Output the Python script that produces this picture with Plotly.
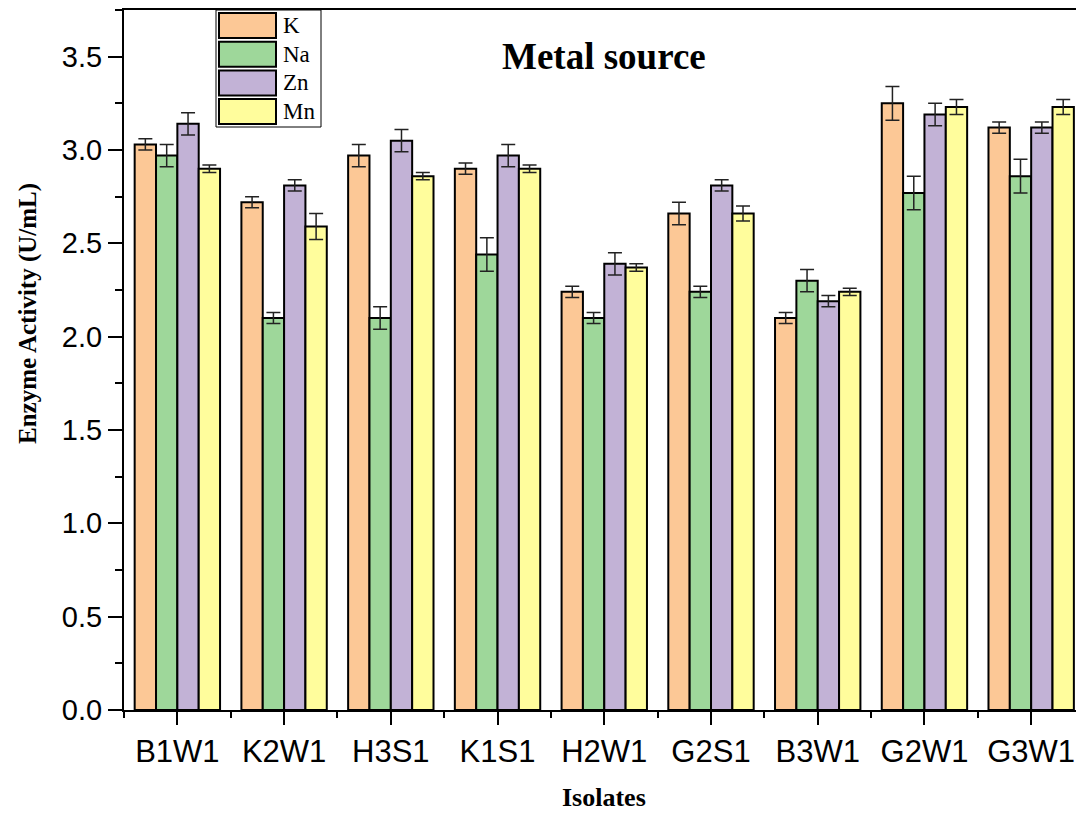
import plotly.graph_objects as go

isolates = ["B1W1", "K2W1", "H3S1", "K1S1", "H2W1", "G2S1", "B3W1", "G2W1", "G3W1"]
metals = ["K", "Na", "Zn", "Mn"]

k_vals = [3.03, 2.72, 2.97, 2.90, 2.24, 2.66, 2.10, 3.25, 3.12]
na_vals = [2.97, 2.10, 2.10, 2.44, 2.10, 2.24, 2.30, 2.77, 2.86]
zn_vals = [3.14, 2.81, 3.05, 2.97, 2.39, 2.81, 2.19, 3.19, 3.12]
mn_vals = [2.90, 2.59, 2.86, 2.90, 2.37, 2.66, 2.24, 3.23, 3.23]

k_err = [0.03, 0.03, 0.06, 0.03, 0.03, 0.06, 0.03, 0.09, 0.03]
na_err = [0.06, 0.03, 0.06, 0.09, 0.03, 0.03, 0.06, 0.09, 0.09]
zn_err = [0.06, 0.03, 0.06, 0.06, 0.06, 0.03, 0.03, 0.06, 0.03]
mn_err = [0.02, 0.07, 0.02, 0.02, 0.02, 0.04, 0.02, 0.04, 0.04]

colors = ["#FCC896", "#9ED79A", "#C2B2D6", "#FFFD9C"]
values = [k_vals, na_vals, zn_vals, mn_vals]
errors = [k_err, na_err, zn_err, mn_err]

xpos = list(range(len(isolates)))

fig = go.Figure()
for name, vals, errs, col in zip(metals, values, errors, colors):
    fig.add_trace(go.Bar(
        x=xpos, y=vals, name=name,
        marker=dict(color=col, line=dict(color="black", width=2)),
        error_y=dict(type="data", array=errs, visible=True,
                     color="#222222", thickness=1.5, width=7),
        showlegend=False,
    ))

W, H = 1076, 814
ml, mr, mt, mb = 124, 0, 10, 104
pw, ph = W - ml - mr, H - mt - mb


def px_x(p):
    return (p - ml) / pw


def px_y(p):
    return 1 - (p - mt) / ph


shapes = [dict(type="rect", xref="paper", yref="paper",
               x0=px_x(216), x1=px_x(321), y0=px_y(127), y1=px_y(10),
               line=dict(color="black", width=1), fillcolor="white", layer="above")]
annotations = []
for i, (name, col) in enumerate(zip(metals, colors)):
    top = 13 + i * 28.7
    shapes.append(dict(type="rect", xref="paper", yref="paper",
                       x0=px_x(219), x1=px_x(276), y0=px_y(top + 25), y1=px_y(top),
                       line=dict(color="black", width=2), fillcolor=col, layer="above"))
    annotations.append(dict(text=name, xref="paper", yref="paper",
                            x=px_x(281), y=px_y(top + 12.5), xanchor="left", yanchor="middle",
                            showarrow=False,
                            font=dict(family="Liberation Serif", size=23, color="black")))

annotations.append(dict(text="<b>Metal source</b>", xref="paper", yref="paper",
                        x=px_x(604), y=px_y(56), xanchor="center", yanchor="middle",
                        showarrow=False,
                        font=dict(family="Liberation Serif", size=37, color="black")))
annotations.append(dict(text="<b>Isolates</b>", xref="paper", yref="paper",
                        x=px_x(604), y=px_y(797), xanchor="center", yanchor="middle",
                        showarrow=False,
                        font=dict(family="Liberation Serif", size=26, color="black")))
annotations.append(dict(text="<b>Enzyme Activity (U/mL)</b>", xref="paper", yref="paper",
                        x=px_x(28), y=px_y(314), xanchor="center", yanchor="middle",
                        textangle=-90, showarrow=False,
                        font=dict(family="Liberation Serif", size=25, color="black")))

fig.update_layout(
    width=W, height=H,
    margin=dict(l=ml, r=mr, t=mt, b=mb),
    plot_bgcolor="white", paper_bgcolor="white",
    barmode="group", bargap=0.2, bargroupgap=0,
    shapes=shapes, annotations=annotations,
    xaxis=dict(
        range=[-0.5, 8.42],
        tickmode="array", tickvals=xpos, ticktext=isolates,
        ticks="outside", ticklen=13, tickwidth=2, tickcolor="black",
        showline=True, linecolor="black", linewidth=2, mirror=True,
        showgrid=False, zeroline=False,
        tickfont=dict(family="Liberation Sans", size=31, color="black"),
        minor=dict(tickmode="array", tickvals=[i - 0.5 for i in range(10)],
                   ticks="outside", ticklen=6, tickwidth=2, tickcolor="black",
                   showgrid=False),
    ),
    yaxis=dict(
        range=[0, 3.75],
        tickmode="linear", tick0=0, dtick=0.5, tickformat=".1f",
        ticks="outside", ticklen=14, tickwidth=2, tickcolor="black",
        showline=True, linecolor="black", linewidth=2, mirror=False,
        showgrid=False, zeroline=False,
        tickfont=dict(family="Liberation Sans", size=29, color="black"),
        minor=dict(tick0=0.25, dtick=0.5, ticks="outside", ticklen=7, tickwidth=2,
                   tickcolor="black", showgrid=False),
    ),
)

fig.write_html(
    "out.html",
    config={"displayModeBar": False},
    post_script="document.body.style.margin='0';document.body.style.overflow='hidden';",
)
